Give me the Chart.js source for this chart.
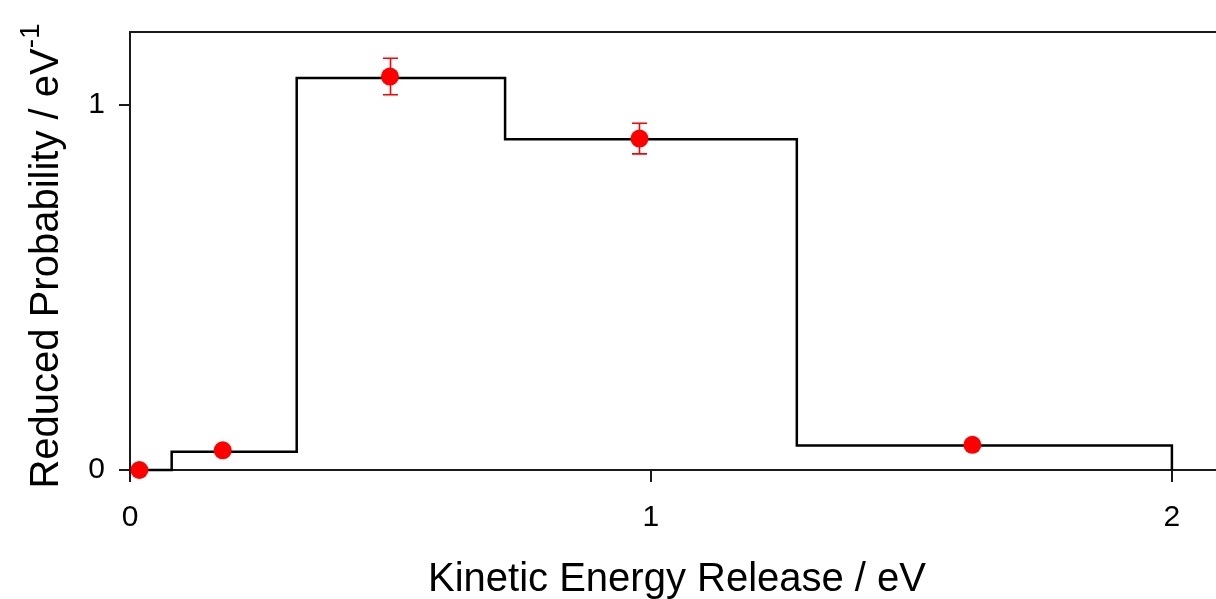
<!DOCTYPE html>
<html>
<head>
<meta charset="utf-8">
<script src="https://cdn.jsdelivr.net/npm/chart.js@4.4.1/dist/chart.umd.min.js"></script>
<style>
  html, body { margin: 0; padding: 0; background: #fff; overflow: hidden; }
  canvas { display: block; }
</style>
</head>
<body>
<canvas id="c" width="1233" height="599" style="width:1233px;height:599px"></canvas>
<script>
// ---- data ----
const binEdges  = [0, 0.08, 0.32, 0.72, 1.28, 2.0];
const binValues = [0, 0.05, 1.074, 0.906, 0.067];
const pointX    = [0.018, 0.178, 0.499, 0.978, 1.617];
const pointY    = [0, 0.054, 1.078, 0.908, 0.069];
const pointErr  = [0, 0, 0.05, 0.042, 0];
const xTicks    = [0, 1, 2];
const yTicks    = [0, 1];
const xTitle    = 'Kinetic Energy Release / eV';
const yTitleMain = 'Reduced Probability / eV';
const yTitleSup  = '-1';

const FONT = "'Liberation Sans', Arial, sans-serif";
const AXIS = '#1a1a1a';

const stepData = binEdges.map((e, i) => ({ x: e, y: i < binValues.length ? binValues[i] : 0 }));
const pts = pointX.map((x, i) => ({ x: x, y: pointY[i] }));

const decorations = {
  id: 'decorations',
  afterDatasetsDraw(chart) {
    const { ctx, scales: { x, y } } = chart;
    ctx.save();
    ctx.strokeStyle = '#ff0000';
    ctx.lineWidth = 1.6;
    pointX.forEach((px, i) => {
      const e = pointErr[i];
      if (!e) return;
      const cx = Math.round(x.getPixelForValue(px)) + 0.5;
      const yt = y.getPixelForValue(pointY[i] + e);
      const yb = y.getPixelForValue(pointY[i] - e);
      ctx.beginPath();
      ctx.moveTo(cx, yt); ctx.lineTo(cx, yb);
      ctx.moveTo(cx - 7.5, yt); ctx.lineTo(cx + 7.5, yt);
      ctx.moveTo(cx - 7.5, yb); ctx.lineTo(cx + 7.5, yb);
      ctx.stroke();
    });
    ctx.restore();
  },
  afterDraw(chart) {
    const { ctx, chartArea } = chart;
    ctx.save();
    // top frame line
    ctx.strokeStyle = AXIS;
    ctx.lineWidth = 2;
    ctx.beginPath();
    ctx.moveTo(chartArea.left - 1, chartArea.top);
    ctx.lineTo(chartArea.right + 10, chartArea.top);
    ctx.stroke();
    // y title with superscript
    ctx.fillStyle = '#000';
    ctx.textBaseline = 'alphabetic';
    ctx.textAlign = 'left';
    ctx.font = '40px ' + FONT;
    const wMain = ctx.measureText(yTitleMain).width;
    ctx.font = '28px ' + FONT;
    const wSup = ctx.measureText(yTitleSup).width;
    const total = wMain + wSup;
    const cy = (chartArea.top + chartArea.bottom) / 2 + 5;
    ctx.translate(58, cy);
    ctx.rotate(-Math.PI / 2);
    ctx.font = '40px ' + FONT;
    ctx.fillText(yTitleMain, -total / 2, 0);
    ctx.font = '28px ' + FONT;
    ctx.fillText(yTitleSup, -total / 2 + wMain, -19);
    ctx.restore();
  }
};

new Chart(document.getElementById('c'), {
  type: 'scatter',
  data: {
    datasets: [
      {
        type: 'scatter',
        data: pts,
        backgroundColor: '#ff0000',
        borderColor: '#ff0000',
        pointRadius: 9,
        pointHoverRadius: 9,
        borderWidth: 0,
        clip: false
      },
      {
        type: 'line',
        data: stepData,
        stepped: 'before',
        borderColor: '#000',
        borderWidth: 2.5,
        pointRadius: 0,
        fill: false,
        clip: false
      }
    ]
  },
  options: {
    responsive: false,
    maintainAspectRatio: false,
    devicePixelRatio: 1,
    animation: false,
    events: [],
    layout: { padding: { top: 30, left: 0, right: 0, bottom: 0 } },
    plugins: { legend: { display: false }, tooltip: { enabled: false } },
    scales: {
      x: {
        type: 'linear',
        min: 0, max: 2.1,
        afterBuildTicks: (s) => { s.ticks = xTicks.map(v => ({ value: v })); },
        afterFit: (s) => { s.height = 129; },
        grid: { display: true, drawOnChartArea: false, drawTicks: true, tickLength: 12, color: AXIS, lineWidth: 2 },
        border: { display: true, color: AXIS, width: 2 },
        ticks: { color: '#000', font: { family: FONT, size: 30 }, padding: 18, maxRotation: 0 },
        title: { display: true, text: xTitle, color: '#000', font: { family: FONT, size: 40 }, padding: { top: 0, bottom: -5 } }
      },
      y: {
        type: 'linear',
        min: 0, max: 1.2,
        afterBuildTicks: (s) => { s.ticks = yTicks.map(v => ({ value: v })); },
        afterFit: (s) => { s.width = 130; },
        grid: { display: true, drawOnChartArea: false, drawTicks: true, tickLength: 11, color: AXIS, lineWidth: 2 },
        border: { display: true, color: AXIS, width: 2 },
        ticks: { color: '#000', font: { family: FONT, size: 30 }, padding: 14 }
      }
    }
  },
  plugins: [decorations]
});
</script>
</body>
</html>
